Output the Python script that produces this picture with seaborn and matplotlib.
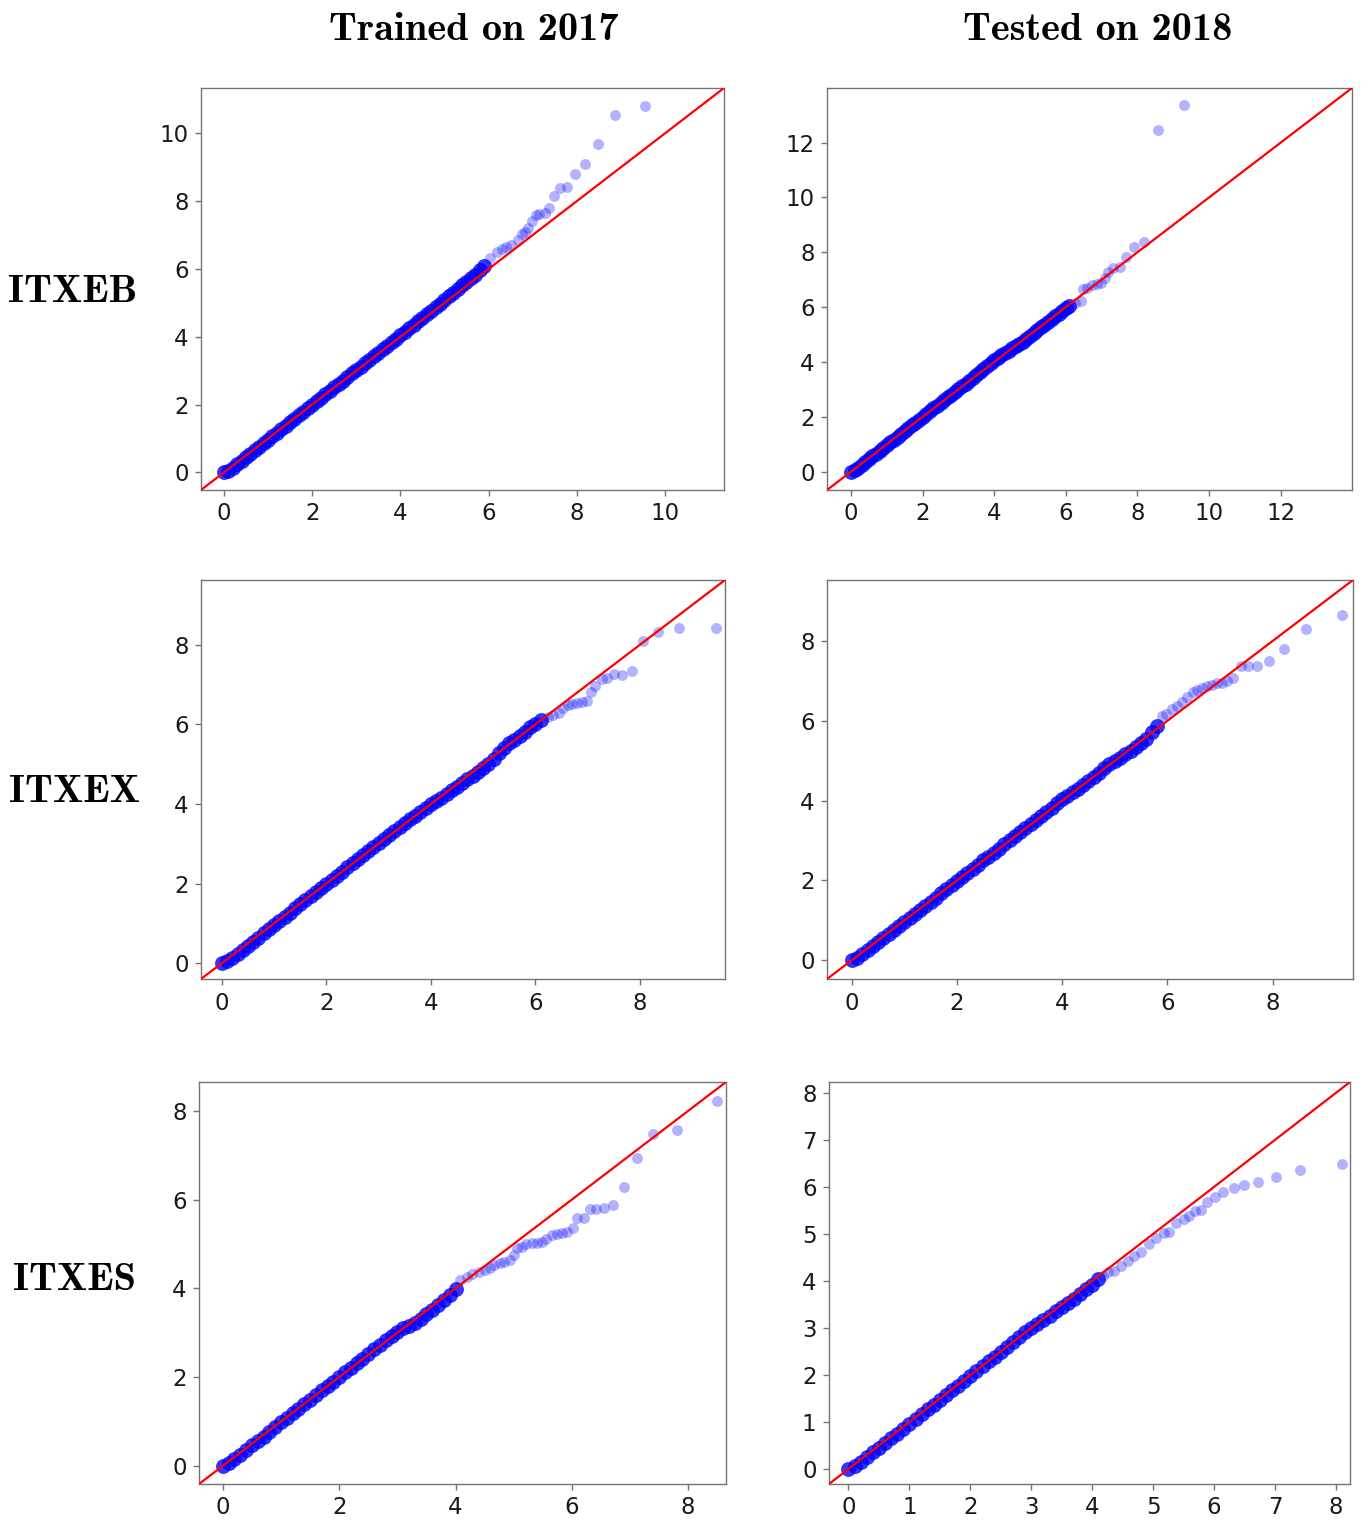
import numpy as np
import pandas as pd
import seaborn as sns
import matplotlib.pyplot as plt
from matplotlib.ticker import MultipleLocator

# theoretical quantile grid used for the dense body of every panel
q_grid = [0.0, 0.1, 0.2, 0.3, 0.4, 0.5, 0.6, 0.7, 0.8, 0.9,
          1.0, 1.1, 1.2, 1.3, 1.4, 1.5, 1.6, 1.7, 1.8, 1.9,
          2.0, 2.1, 2.2, 2.3, 2.4, 2.5, 2.6, 2.7, 2.8, 2.9,
          3.0, 3.1, 3.2, 3.3, 3.4, 3.5, 3.6, 3.7, 3.8, 3.9,
          4.0, 4.1, 4.2, 4.3, 4.4, 4.5, 4.6, 4.7, 4.8, 4.9,
          5.0, 5.1, 5.2, 5.3, 5.4, 5.5, 5.6, 5.7, 5.8, 5.9,
          6.0, 6.1]

# ITXEB, trained on 2017
eb17_body = [0.0, 0.05, 0.14, 0.24, 0.34, 0.44, 0.55, 0.65, 0.75, 0.86,
             0.96, 1.06, 1.17, 1.27, 1.37, 1.48, 1.58, 1.69, 1.79, 1.89,
             2.0, 2.1, 2.2, 2.31, 2.41, 2.51, 2.61, 2.71, 2.82, 2.92,
             3.02, 3.12, 3.22, 3.32, 3.43, 3.53, 3.63, 3.73, 3.84, 3.94,
             4.04, 4.14, 4.25, 4.35, 4.46, 4.56, 4.67, 4.77, 4.88, 4.98,
             5.09, 5.19, 5.3, 5.41, 5.52, 5.62, 5.72, 5.83, 5.96, 6.08]
eb17_tx = [6.03, 6.19, 6.30, 6.39, 6.51, 6.67, 6.76, 6.83, 6.89, 6.98, 7.07,
           7.14, 7.28, 7.37, 7.48, 7.62, 7.78, 7.96, 8.19, 8.48, 8.87, 9.55]
eb17_ty = [6.32, 6.50, 6.59, 6.65, 6.70, 6.85, 7.03, 7.09, 7.20, 7.41, 7.59,
           7.62, 7.65, 7.79, 8.15, 8.38, 8.41, 8.79, 9.09, 9.70, 10.53, 10.82]

# ITXEB, tested on 2018
eb18_body = [0.0, 0.06, 0.15, 0.25, 0.35, 0.45, 0.56, 0.66, 0.76, 0.86,
             0.97, 1.07, 1.17, 1.28, 1.38, 1.48, 1.59, 1.69, 1.79, 1.9,
             2.0, 2.1, 2.21, 2.31, 2.41, 2.51, 2.61, 2.71, 2.81, 2.91,
             3.01, 3.11, 3.21, 3.31, 3.42, 3.52, 3.62, 3.73, 3.84, 3.95,
             4.06, 4.16, 4.25, 4.33, 4.41, 4.5, 4.58, 4.66, 4.74, 4.83,
             4.93, 5.04, 5.15, 5.26, 5.36, 5.46, 5.56, 5.66, 5.76, 5.86,
             5.95, 6.05]
eb18_tx = [6.26, 6.42, 6.48, 6.59, 6.73, 6.87, 6.98, 7.09, 7.18, 7.32, 7.51,
           7.68, 7.90, 8.18, 8.58, 9.30]
eb18_ty = [6.15, 6.22, 6.65, 6.69, 6.80, 6.84, 6.87, 7.05, 7.27, 7.42, 7.45,
           7.82, 8.18, 8.36, 12.47, 13.38]

# ITXEX, trained on 2017
ex17_body = [0.0, 0.05, 0.14, 0.24, 0.34, 0.44, 0.54, 0.64, 0.75, 0.85,
             0.96, 1.06, 1.17, 1.27, 1.38, 1.48, 1.58, 1.69, 1.79, 1.9,
             2.0, 2.1, 2.2, 2.3, 2.41, 2.51, 2.61, 2.71, 2.81, 2.91,
             3.01, 3.11, 3.21, 3.31, 3.41, 3.51, 3.61, 3.71, 3.81, 3.91,
             3.99, 4.07, 4.16, 4.25, 4.34, 4.43, 4.52, 4.62, 4.71, 4.8,
             4.9, 5.01, 5.13, 5.27, 5.41, 5.52, 5.62, 5.72, 5.82, 5.93,
             6.02, 6.1]
ex17_tx = [6.24, 6.33, 6.45, 6.53, 6.62, 6.70, 6.79, 6.89, 6.99, 7.06, 7.14,
           7.27, 7.37, 7.50, 7.66, 7.85, 8.06, 8.34, 8.75, 9.45]
ex17_ty = [6.19, 6.24, 6.29, 6.42, 6.49, 6.52, 6.54, 6.57, 6.59, 6.82, 6.97,
           7.14, 7.17, 7.27, 7.24, 7.34, 8.10, 8.32, 8.42, 8.42]

# ITXEX, tested on 2018
ex18_body = [0.0, 0.05, 0.15, 0.25, 0.35, 0.45, 0.55, 0.65, 0.75, 0.86,
             0.96, 1.06, 1.16, 1.27, 1.37, 1.47, 1.57, 1.68, 1.78, 1.88,
             1.99, 2.09, 2.19, 2.29, 2.39, 2.5, 2.6, 2.7, 2.8, 2.91,
             3.01, 3.11, 3.21, 3.31, 3.41, 3.52, 3.62, 3.72, 3.82, 3.93,
             4.03, 4.12, 4.21, 4.3, 4.39, 4.49, 4.59, 4.7, 4.82, 4.92,
             5.0, 5.08, 5.16, 5.25, 5.34, 5.44, 5.55, 5.72, 5.86]
ex18_tx = [5.89, 5.97, 6.08, 6.18, 6.27, 6.37, 6.48, 6.56, 6.65, 6.75, 6.84,
           6.94, 7.03, 7.13, 7.24, 7.40, 7.53, 7.70, 7.93, 8.21, 8.63, 9.32]
ex18_ty = [6.12, 6.17, 6.29, 6.37, 6.47, 6.59, 6.72, 6.77, 6.82, 6.87, 6.89,
           6.94, 6.96, 6.99, 7.07, 7.37, 7.37, 7.37, 7.49, 7.79, 8.30, 8.65]

# ITXES, trained on 2017
es17_body = [0.0, 0.06, 0.15, 0.25, 0.35, 0.46, 0.56, 0.66, 0.77, 0.87,
             0.98, 1.08, 1.18, 1.28, 1.39, 1.49, 1.59, 1.7, 1.8, 1.9,
             2.01, 2.11, 2.21, 2.31, 2.41, 2.52, 2.63, 2.73, 2.83, 2.93,
             3.02, 3.1, 3.16, 3.22, 3.3, 3.42, 3.52, 3.62, 3.73, 3.86,
             3.99]
es17_tx = [4.07, 4.19, 4.29, 4.41, 4.50, 4.59, 4.67, 4.76, 4.84, 4.93, 5.00,
           5.05, 5.14, 5.22, 5.31, 5.40, 5.48, 5.55, 5.66, 5.74, 5.83, 5.91,
           6.02, 6.09, 6.21, 6.31, 6.41, 6.55, 6.71, 6.90, 7.12, 7.40, 7.81, 8.50]
es17_ty = [4.19, 4.26, 4.33, 4.37, 4.42, 4.46, 4.53, 4.57, 4.60, 4.64, 4.75,
           4.91, 4.93, 5.00, 5.02, 5.02, 5.04, 5.11, 5.20, 5.22, 5.25, 5.27,
           5.36, 5.58, 5.58, 5.78, 5.78, 5.81, 5.87, 6.28, 6.93, 7.47, 7.56, 8.23]

# ITXES, tested on 2018
es18_body = [0.0, 0.06, 0.15, 0.25, 0.35, 0.45, 0.55, 0.65, 0.75, 0.86,
             0.96, 1.06, 1.16, 1.27, 1.37, 1.47, 1.57, 1.67, 1.77, 1.88,
             1.98, 2.08, 2.18, 2.29, 2.39, 2.49, 2.59, 2.7, 2.81, 2.92,
             3.0, 3.08, 3.17, 3.26, 3.35, 3.44, 3.53, 3.62, 3.72, 3.82,
             3.92, 4.03]
es18_tx = [4.18, 4.26, 4.36, 4.47, 4.59, 4.69, 4.80, 4.93, 5.05, 5.18, 5.26,
           5.38, 5.51, 5.59, 5.69, 5.79, 5.89, 6.01, 6.15, 6.32, 6.49, 6.72,
           7.01, 7.41, 8.10]
es18_ty = [4.11, 4.19, 4.21, 4.32, 4.42, 4.53, 4.61, 4.78, 4.91, 5.02, 5.04,
           5.23, 5.31, 5.38, 5.48, 5.50, 5.67, 5.78, 5.88, 5.97, 6.03, 6.10,
           6.20, 6.35, 6.48]

col_titles = ['Trained on 2017', 'Tested on 2018']
row_titles = ['ITXEB', 'ITXEX', 'ITXES']

panels = [[(eb17_body, eb17_tx, eb17_ty), (eb18_body, eb18_tx, eb18_ty)],
          [(ex17_body, ex17_tx, ex17_ty), (ex18_body, ex18_tx, ex18_ty)],
          [(es17_body, es17_tx, es17_ty), (es18_body, es18_tx, es18_ty)]]

# axis limits (same on x and y) and tick step, per panel
lims = [[(-0.52, 11.34), (-0.67, 13.99)],
        [(-0.40, 9.63), (-0.47, 9.53)],
        [(-0.41, 8.65), (-0.32, 8.23)]]
steps = [[2, 2], [2, 2], [2, 1]]

# axes boxes in pixels: left, top, right, bottom
boxes = [[(201, 88, 724, 490), (827, 88, 1352, 490)],
         [(201, 580, 725, 979), (827, 580, 1353, 979)],
         [(199, 1082, 726, 1484), (829, 1082, 1350, 1484)]]

W, H = 1372, 1529

sns.set_style('ticks')
plt.rcParams['font.family'] = ['DejaVu Sans']
plt.rcParams['axes.edgecolor'] = '0.45'
plt.rcParams['axes.linewidth'] = 1.0

fig, axes = plt.subplots(3, 2, figsize=(W / 100, H / 100), dpi=100)

for i in range(3):
    for j in range(2):
        ax = axes[i, j]
        l, t, r, b = boxes[i][j]
        ax.set_position([l / W, 1 - b / H, (r - l) / W, (b - t) / H])
        body, tx, ty = panels[i][j]
        dfb = pd.DataFrame({'x': q_grid[:len(body)], 'y': body})
        dft = pd.DataFrame({'x': tx, 'y': ty})
        sns.scatterplot(data=dfb, x='x', y='y', ax=ax, color='blue', alpha=0.8,
                        s=115, linewidth=0, zorder=2)
        sns.scatterplot(data=dft, x='x', y='y', ax=ax, color='blue', alpha=0.3,
                        s=62, linewidth=0, zorder=2)
        ax.axline((0, 0), slope=1, color='red', lw=1.6, zorder=3)
        lo, hi = lims[i][j]
        ax.set_xlim(lo, hi)
        ax.set_ylim(lo, hi)
        ax.xaxis.set_major_locator(MultipleLocator(steps[i][j]))
        ax.yaxis.set_major_locator(MultipleLocator(steps[i][j]))
        ax.set_xlabel('')
        ax.set_ylabel('')
        ax.tick_params(labelsize=16.5, length=4, width=1, color='0.45',
                       labelcolor='0.1', pad=5)

# column and row headings
col_x = [474, 1098]
for j, txt in enumerate(col_titles):
    fig.text(col_x[j] / W, 1 - 30 / H, txt, family='cmb10',
             ha='center', va='center', fontsize=29, color='black')

row_pos = [(73, 293), (74, 792), (75, 1280)]
for i, txt in enumerate(row_titles):
    x, y = row_pos[i]
    fig.text(x / W, 1 - y / H, txt, family='cmb10',
             ha='center', va='center', fontsize=29, color='black')

fig.savefig('out.png', dpi=100)
